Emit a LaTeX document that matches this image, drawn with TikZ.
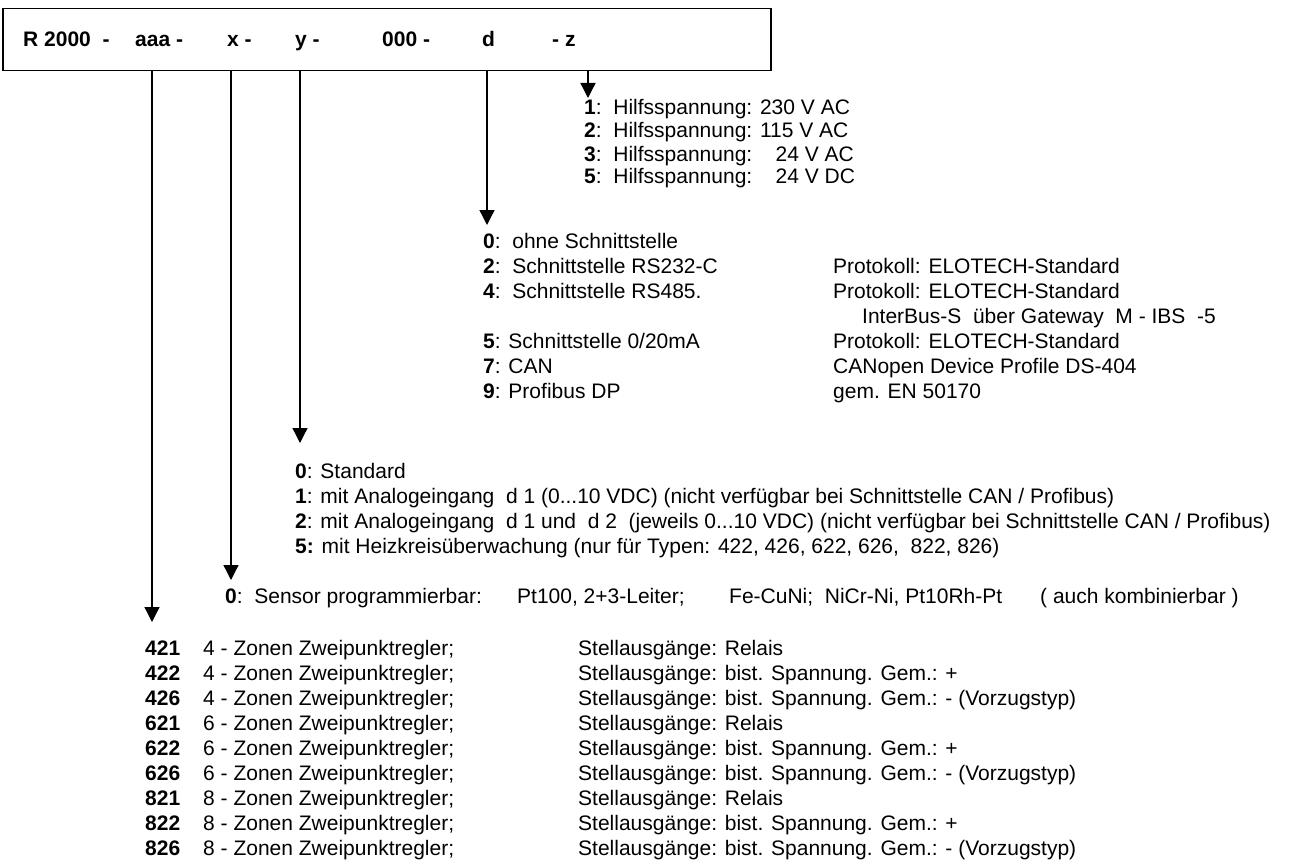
\documentclass[tikz,border=0pt]{standalone}
\usepackage{fontspec}
\setmainfont{Liberation Sans}
\usetikzlibrary{arrows.meta}
\begin{document}
\begin{tikzpicture}[x=1pt,y=-1pt,
  txt/.style={anchor=base west,inner sep=0pt,font=\fontsize{21}{25}\selectfont},
  btxt/.style={txt,font=\fontsize{21}{25}\selectfont\bfseries},
  arr/.style={line width=1.3pt,-{Triangle[length=15pt,width=15pt]}},
  codebox/.style={draw,line width=1.5pt,minimum width=768pt,minimum height=62pt,anchor=north west,inner sep=0pt}]
\useasboundingbox (0,0) rectangle (1291,864);
% box
\node[codebox] (box) at (2,8) {};
\node[btxt] (tR) at (23,47) {R 2000 \ -};
\node[btxt] (ta) at (135,47) {aaa -};
\node[btxt] (tx) at (227,47) {x -};
\node[btxt] (ty) at (295,47) {y -};
\node[btxt] (t0) at (382,47) {000 -};
\node[btxt] (td) at (482,47) {d};
\node[btxt] (tz) at (552,47) {- z};
% arrow coordinates
\coordinate (sa) at (152,71); \coordinate (ea) at (152,622);
\coordinate (sx) at (231,71); \coordinate (ex) at (231,580);
\coordinate (sy) at (300,71); \coordinate (ey) at (300,443);
\coordinate (sd) at (487,71); \coordinate (ed) at (487,225);
\coordinate (sz) at (588,71); \coordinate (ez) at (588,98);
\draw[arr] (sa) -- (ea);
\draw[arr] (sx) -- (ex);
\draw[arr] (sy) -- (ey);
\draw[arr] (sd) -- (ed);
\draw[arr] (sz) -- (ez);
% z block
\node[txt] (z1) at (584,115) {\textbf{1}:\ \ Hilfsspannung: 230 V AC};
\node[txt] (z2) at (584,138) {\textbf{2}:\ \ Hilfsspannung: 115 V AC};
\node[txt] (z3) at (584,161) {\textbf{3}:\ \ Hilfsspannung:\ \ \hphantom{2}24 V AC};
\node[txt] (z5) at (584,184) {\textbf{5}:\ \ Hilfsspannung:\ \ \hphantom{2}24 V DC};
% d block
\node[txt] (d0) at (483,248) {\textbf{0}:\ \ ohne Schnittstelle};
\node[txt] (d2) at (483,273) {\textbf{2}:\ \ Schnittstelle RS232-C};
\node[txt] (d2b) at (833,273) {Protokoll: ELOTECH-Standard};
\node[txt] (d4) at (483,298) {\textbf{4}:\ \ Schnittstelle RS485.};
\node[txt] (d4b) at (833,298) {Protokoll: ELOTECH-Standard};
\node[txt] (d4c) at (862,323) {InterBus-S\ \ über Gateway\ \ M - IBS\ \ -5};
\node[txt] (d5) at (483,348) {\textbf{5}: Schnittstelle 0/20mA};
\node[txt] (d5b) at (833,348) {Protokoll: ELOTECH-Standard};
\node[txt] (d7) at (483,373) {\textbf{7}: CAN};
\node[txt] (d7b) at (833,373) {CANopen Device Profile DS-404};
\node[txt] (d9) at (483,398) {\textbf{9}: Profibus DP};
\node[txt] (d9b) at (833,398) {gem. EN 50170};
% y block
\node[txt] (y0) at (295,478) {\textbf{0}: Standard};
\node[txt] (y1) at (295,503) {\textbf{1}: mit Analogeingang\ \ d 1 (0...10 VDC) (nicht verfügbar bei Schnittstelle CAN / Profibus)};
\node[txt] (y2) at (295,528) {\textbf{2}: mit Analogeingang\ \ d 1 und\ \ d 2\ \ (jeweils 0...10 VDC) (nicht verfügbar bei Schnittstelle CAN / Profibus)};
\node[txt] (y5) at (295,553) {\textbf{5:} mit Heizkreisüberwachung (nur für Typen: 422, 426, 622, 626,\ \ 822, 826)};
% x block
\node[txt] (x0) at (225,603) {\textbf{0}:\ \ Sensor programmierbar:};
\node[txt] (x0b) at (517,603) {Pt100, 2+3-Leiter;};
\node[txt] (x0c) at (729,603) {Fe-CuNi;\ \ NiCr-Ni, Pt10Rh-Pt};
\node[txt] (x0d) at (1040,603) {( auch kombinierbar )};
% aaa block
\foreach \c/\z/\s [count=\i from 0] in {421/4/Relais,422/4/{bist. Spannung. Gem.: +},426/4/{bist. Spannung. Gem.: - (Vorzugstyp)},621/6/Relais,622/6/{bist. Spannung. Gem.: +},626/6/{bist. Spannung. Gem.: - (Vorzugstyp)},821/8/Relais,822/8/{bist. Spannung. Gem.: +},826/8/{bist. Spannung. Gem.: - (Vorzugstyp)}}{
  \node[btxt] (c\c) at (145,655+25*\i) {\c};
  \node[txt] (n\c) at (203,655+25*\i) {\z\ - Zonen Zweipunktregler;};
  \node[txt] (s\c) at (578,655+25*\i) {Stellausgänge: \s};
}
\end{tikzpicture}
\end{document}
